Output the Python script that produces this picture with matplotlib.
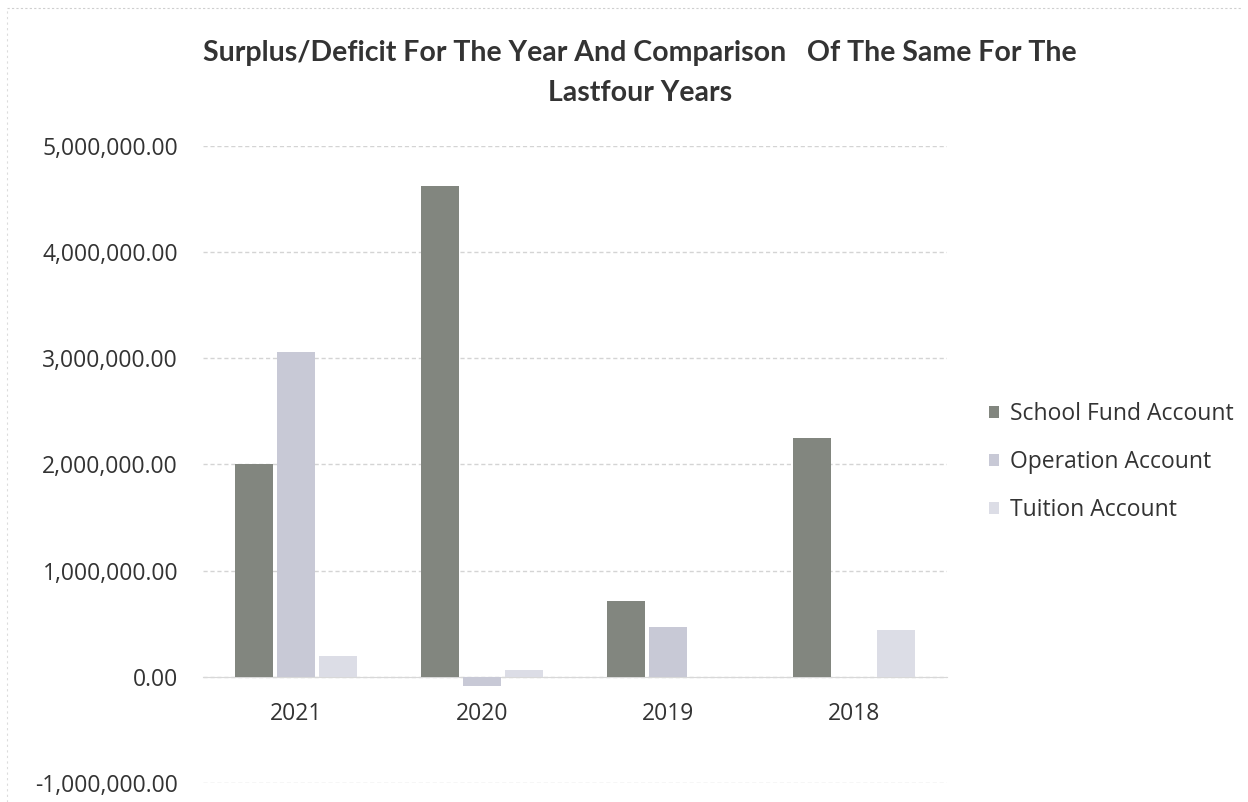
import matplotlib
matplotlib.use("Agg")
import matplotlib.pyplot as plt
import numpy as np
from matplotlib.ticker import FuncFormatter, MultipleLocator

years = ["2021", "2020", "2019", "2018"]
school_fund = [2000000, 4620000, 715000, 2250000]
operation = [3060000, -90000, 470000, 0]
tuition = [195000, 65000, 0, 440000]

series_names = ["School Fund Account", "Operation Account", "Tuition Account"]
series_values = [school_fund, operation, tuition]
series_colors = ["#82867f", "#c8c9d6", "#dcdde6"]

fig = plt.figure(figsize=(12.48, 8.02), dpi=100)
ax = fig.add_axes([0.1627, 0.0237, 0.5961, 0.7943])

x = np.arange(len(years))
width = 0.205
gap = 0.02
offsets = [-(width + gap), 0.0, width + gap]
handles = []
for name, vals, col, off in zip(series_names, series_values, series_colors, offsets):
    h = ax.bar(x + off, vals, width=width, color=col, label=name, zorder=3)
    handles.append(h)

ax.set_xlim(-0.5, len(years) - 0.5)
ax.set_ylim(-1000000, 5000000)
ax.yaxis.set_major_locator(MultipleLocator(1000000))
ax.yaxis.set_major_formatter(FuncFormatter(lambda v, p: f"{v:,.2f}"))
ax.grid(axis="y", color="#d4d4d4", linewidth=1.0, linestyle=(0, (3, 2)), zorder=0)

for s in ["top", "right", "left"]:
    ax.spines[s].set_visible(False)
ax.spines["bottom"].set_position(("data", 0))
ax.spines["bottom"].set_color("#d8d8d8")
ax.set_xticks(x)
ax.set_xticklabels(years)
ax.tick_params(axis="x", length=0, pad=18, labelsize=16.5, labelcolor="#333333")
ax.tick_params(axis="y", length=0, pad=18, labelsize=16.5, labelcolor="#333333")
for lab in ax.get_xticklabels() + ax.get_yticklabels():
    lab.set_family("Open Sans")

title_kw = dict(ha="center", va="center", fontsize=20.5, fontweight="bold",
                family="Lato", color="#333333")
fig.text(0.513, 0.934, "Surplus/Deficit For The Year And Comparison   Of The Same For The", **title_kw)
fig.text(0.513, 0.884, "Lastfour Years", **title_kw)

leg = fig.legend(handles=handles, labels=series_names, loc="center left",
                 bbox_to_anchor=(0.776, 0.424), frameon=False,
                 prop={"family": "Open Sans", "size": 16.5},
                 handlelength=0.45, handleheight=0.45, handletextpad=0.45,
                 labelspacing=1.05)
for t in leg.get_texts():
    t.set_color("#333333")

# faint chart border on the top and left
fig.add_artist(plt.Line2D([0.006, 0.995], [0.99, 0.99], transform=fig.transFigure,
                          color="#cfcfcf", linewidth=0.8, linestyle=(0, (2, 2))))
fig.add_artist(plt.Line2D([0.006, 0.006], [0.0, 0.99], transform=fig.transFigure,
                          color="#dcdcdc", linewidth=0.8, linestyle=(0, (2, 3))))

fig.savefig("out.png", dpi=100, facecolor="white")
